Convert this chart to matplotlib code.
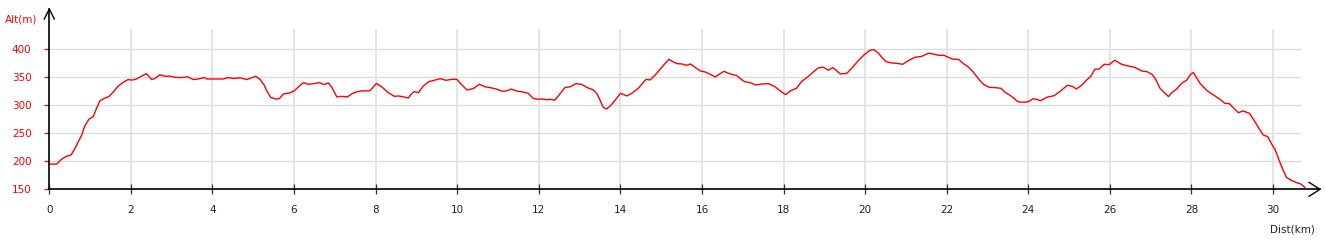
import matplotlib
matplotlib.use("Agg")
import matplotlib.pyplot as plt

dist_km = [0.00, 0.18, 0.30, 0.42, 0.53, 0.63, 0.71, 0.79, 0.87, 0.97, 1.08, 1.16, 1.24, 1.35, 1.46, 1.57,
           1.69, 1.81, 1.93, 2.03, 2.14, 2.26, 2.38, 2.51, 2.59, 2.71, 2.83, 2.96, 3.08, 3.24, 3.39, 3.53,
           3.65, 3.80, 3.86, 4.00, 4.27, 4.37, 4.51, 4.68, 4.84, 4.96, 5.06, 5.17, 5.27, 5.33, 5.43, 5.56,
           5.64, 5.74, 5.89, 6.00, 6.11, 6.23, 6.35, 6.48, 6.62, 6.74, 6.84, 6.92, 7.05, 7.17, 7.31, 7.44,
           7.53, 7.66, 7.86, 8.02, 8.15, 8.31, 8.46, 8.56, 8.68, 8.80, 8.89, 8.95, 9.05, 9.17, 9.30, 9.46,
           9.59, 9.72, 9.87, 9.99, 10.10, 10.24, 10.40, 10.54, 10.69, 10.85, 10.98, 11.10, 11.22, 11.33,
           11.45, 11.61, 11.74, 11.86, 11.98, 12.07, 12.19, 12.29, 12.39, 12.50, 12.64, 12.78, 12.91, 13.05,
           13.19, 13.34, 13.43, 13.50, 13.58, 13.66, 13.76, 13.89, 14.00, 14.07, 14.16, 14.28, 14.44, 14.63,
           14.73, 14.89, 15.10, 15.19, 15.28, 15.39, 15.51, 15.62, 15.72, 15.84, 15.96, 16.08, 16.20, 16.33,
           16.42, 16.54, 16.67, 16.85, 17.04, 17.18, 17.32, 17.46, 17.63, 17.79, 17.91, 18.05, 18.18, 18.32,
           18.44, 18.60, 18.72, 18.85, 18.98, 19.10, 19.21, 19.31, 19.39, 19.55, 19.67, 19.84, 20.00, 20.12,
           20.22, 20.33, 20.41, 20.51, 20.65, 20.78, 20.92, 21.06, 21.22, 21.39, 21.55, 21.67, 21.80, 21.93,
           22.04, 22.16, 22.29, 22.41, 22.53, 22.65, 22.79, 22.90, 23.04, 23.18, 23.33, 23.43, 23.55, 23.63,
           23.74, 23.88, 24.00, 24.12, 24.20, 24.31, 24.45, 24.64, 24.78, 24.96, 25.08, 25.18, 25.31, 25.43,
           25.53, 25.63, 25.74, 25.86, 25.98, 26.12, 26.29, 26.45, 26.61, 26.78, 26.91, 27.03, 27.11, 27.23,
           27.36, 27.44, 27.52, 27.64, 27.76, 27.89, 27.98, 28.05, 28.11, 28.21, 28.38, 28.54, 28.69, 28.82,
           28.93, 29.04, 29.15, 29.27, 29.42, 29.53, 29.64, 29.76, 29.87, 29.97, 30.05, 30.13, 30.24, 30.33,
           30.46, 30.58, 30.68, 30.78]
alt_m = [195, 195, 203.6, 209, 211, 223, 235, 246, 263, 275, 280, 295, 308, 312.5, 315.5, 324,
         334.5, 341, 346, 345, 347, 352, 356.5, 346, 348, 354.5, 352, 352, 350, 349.5, 351, 346,
         347, 349.5, 347, 347, 347, 349.5, 348, 349, 346, 349, 352, 346, 336, 326, 314, 311,
         312, 320, 322, 325.5, 333, 340.5, 337.5, 338.7, 340.5, 337, 340, 333, 315, 316, 315, 321.5,
         324, 325.6, 326, 339, 333, 322.6, 316, 316.7, 315, 313, 321.4, 324.4, 322.6, 334.5, 342, 345,
         347.6, 344.6, 346.4, 346.4, 337.5, 327.4, 330, 337.5, 333, 331, 328.6, 325, 326, 329,
         325.6, 323.8, 321.4, 312.5, 310.7, 311.3, 310, 310.7, 309, 318.5, 331.6, 333.3, 338.7, 337.5,
         331.6, 327.4, 320.2, 309.5, 296.4, 293.5, 299.4, 310.7, 321.4, 319.6, 316.7, 321.4, 330.4, 346.4,
         345.2, 357, 375, 382, 378, 374.4, 373.8, 371.4, 373.8, 367.3, 361.3, 359.5, 355.4, 350.6,
         355.4, 360.7, 356.5, 353, 342.3, 340.5, 336.3, 338, 338.7, 333.3, 326.2, 319, 326.2, 330.4,
         342.3, 351.2, 359, 366.7, 368, 362.5, 367.3, 361.3, 356, 357, 366, 380.4, 391.7, 398.2,
         399.4, 392.9, 385.7, 378, 375.6, 375, 373.2, 379.8, 385.7, 387.5, 392.9, 391.7, 389.3, 389.3,
         385.7, 382.2, 382.2, 374.4, 368.5, 359.5, 346.4, 337.5, 332.1, 331.6, 330.4, 323.2, 317.9, 313.7,
         306.5, 305.4, 306.5, 311.9, 310.7, 308.3, 314.3, 317.3, 325, 335.7, 333.9, 329.2, 335.7, 345.2,
         351.2, 364.3, 364.9, 373.2, 372.6, 380.4, 373.2, 370.2, 367.9, 361.3, 360.1, 355.4, 348.2, 330.4,
         320.8, 315.5, 322.6, 329.2, 339.3, 345.2, 355.4, 358.4, 351.2, 339.3, 326.2, 318.5, 311.3, 303.6,
         303, 294.7, 286.9, 289.9, 285.7, 273.8, 260.7, 247, 244, 230.4, 221.4, 205.4, 185.7, 171.4,
         165.5, 161.9, 159.5, 153.6]

x_ticks = list(range(0, 31, 2))
y_ticks = [150, 200, 250, 300, 350, 400]

W, H = 1326, 240
fig = plt.figure(figsize=(W / 100, H / 100), dpi=100)

# pixel geometry
x0_px, y0_px = 49.3, 189.3
px_per_km = 40.79
px_per_m = 0.56
right_px, top_px = 1322.0, 8.0

ax = fig.add_axes([x0_px / W, (H - y0_px) / H, (right_px - x0_px) / W, (y0_px - top_px) / H])
xmax = (right_px - x0_px) / px_per_km
ymax = 150 + (y0_px - top_px) / px_per_m
ax.set_xlim(0, xmax)
ax.set_ylim(150, ymax)
ax.patch.set_alpha(0)
for s in ax.spines.values():
    s.set_visible(False)

grid_xend = (1300 - x0_px) / px_per_km
grid_ytop = 150 + (y0_px - 30) / px_per_m
for yv in y_ticks[1:]:
    ax.plot([0, grid_xend], [yv, yv], color='#dddddd', lw=1.0, zorder=1)
for xv in x_ticks[1:]:
    ax.plot([xv, xv], [150, grid_ytop], color='#e2e2e2', lw=1.3, zorder=1)

ax.plot(dist_km, alt_m, color='#ff0000', lw=1.0, zorder=3, clip_on=False)

# axes lines with open arrow heads
tipx = (1320 - x0_px) / px_per_km
ax.plot([0, tipx], [150, 150], color='black', lw=1.2, zorder=4, clip_on=False)
ax.plot([(1309 - x0_px) / px_per_km, tipx, (1309 - x0_px) / px_per_km],
        [150 + 7 / px_per_m, 150, 150 - 7 / px_per_m], color='black', lw=1.0, zorder=4, clip_on=False)
tipy = 150 + (y0_px - 9) / px_per_m
ax.plot([0, 0], [150, tipy], color='black', lw=1.2, zorder=4, clip_on=False)
ax.plot([-5 / px_per_km, 0, 5 / px_per_km],
        [tipy - 10 / px_per_m, tipy, tipy - 10 / px_per_m], color='black', lw=1.0, zorder=4, clip_on=False)

ax.set_xticks(x_ticks)
ax.set_xticklabels([str(v) for v in x_ticks])
ax.set_yticks(y_ticks)
ax.set_yticklabels([str(v) for v in y_ticks])
ax.tick_params(axis='x', direction='inout', length=7.2, width=0.9, color='#333333',
               labelsize=7.5, labelcolor='#222222', pad=7.5)
ax.tick_params(axis='y', direction='out', length=3.8, width=0.9, color='#ff0000',
               labelsize=7.5, labelcolor='#ff0000', pad=9)

fig.text(5 / W, 1 - 19.3 / H, 'Alt(m)', color='#ff0000', fontsize=7.5, ha='left', va='center')
fig.text(1315 / W, 1 - 229.3 / H, 'Dist(km)', color='#222222', fontsize=7.5, ha='right', va='center')

fig.savefig('out.png', dpi=100)
